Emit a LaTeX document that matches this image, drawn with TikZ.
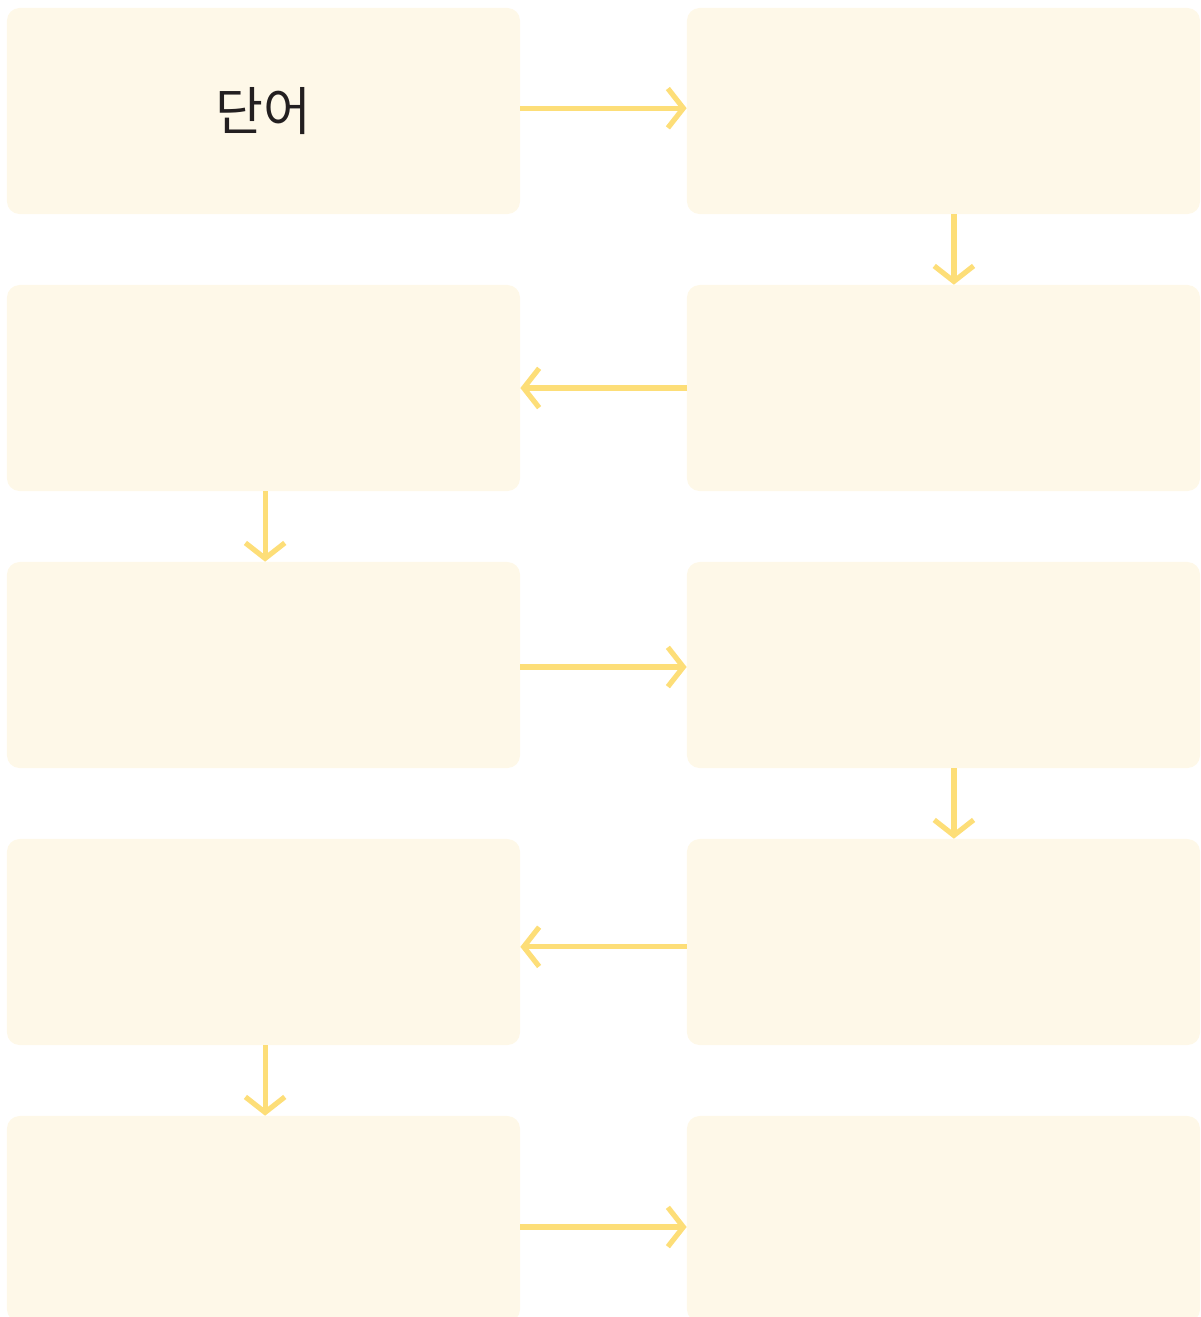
\documentclass[tikz,border=0pt]{standalone}
\usepackage{fontspec}
\usepackage{xcolor}
\usepackage{tikz}
\usetikzlibrary{arrows.meta, positioning, calc}
\newfontfamily\kofont{Noto Sans CJK KR}
\definecolor{wordfill}{HTML}{FEF8E8}
\definecolor{wordarrow}{HTML}{FDDE78}
\definecolor{wordtext}{HTML}{231F20}

\tikzset{
    wordbox/.style={fill=wordfill, minimum width=12.825cm, minimum height=5.15cm, inner sep=0pt, rounded corners=9pt, font=\kofont\fontsize{37}{42}\selectfont, text=wordtext},
    wordlink/.style={-{Straight Barb[length=11pt, width=28pt]}, line width=3.7pt, wordarrow}
}

\begin{document}
\begin{tikzpicture}[x=0.025cm, y=-0.025cm]
    \clip (0, 0) rectangle (1201, 1317);

    % Row 1
    \node[wordbox] (r1l) at (263.5, 111) {단어};
    \node[wordbox] (r1r) at (943.5, 111) {};

    % Row 2
    \node[wordbox] (r2l) at (263.5, 388) {};
    \node[wordbox] (r2r) at (943.5, 388) {};

    % Row 3
    \node[wordbox] (r3l) at (263.5, 665) {};
    \node[wordbox] (r3r) at (943.5, 665) {};

    % Row 4
    \node[wordbox] (r4l) at (263.5, 942) {};
    \node[wordbox] (r4r) at (943.5, 942) {};

    % Row 5 (runs off the bottom)
    \node[wordbox] (r5l) at (263.5, 1219) {};
    \node[wordbox] (r5r) at (943.5, 1219) {};

    % Arrows
    \draw[wordlink] ([yshift=0.07cm]r1l.east) -- ([yshift=0.07cm]r1r.west);
    \draw[wordlink] ([xshift=0.26cm]r1r.south) -- ([xshift=0.26cm]r2r.north);
    \draw[wordlink] (r2r.west) -- (r2l.east);
    \draw[wordlink] ([xshift=0.04cm]r2l.south) -- ([xshift=0.04cm]r3l.north);
    \draw[wordlink] ([yshift=-0.05cm]r3l.east) -- ([yshift=-0.05cm]r3r.west);
    \draw[wordlink] ([xshift=0.26cm]r3r.south) -- ([xshift=0.26cm]r4r.north);
    \draw[wordlink] ([yshift=-0.12cm]r4r.west) -- ([yshift=-0.12cm]r4l.east);
    \draw[wordlink] ([xshift=0.04cm]r4l.south) -- ([xshift=0.04cm]r5l.north);
    \draw[wordlink] ([yshift=-0.2cm]r5l.east) -- ([yshift=-0.2cm]r5r.west);
\end{tikzpicture}
\end{document}
